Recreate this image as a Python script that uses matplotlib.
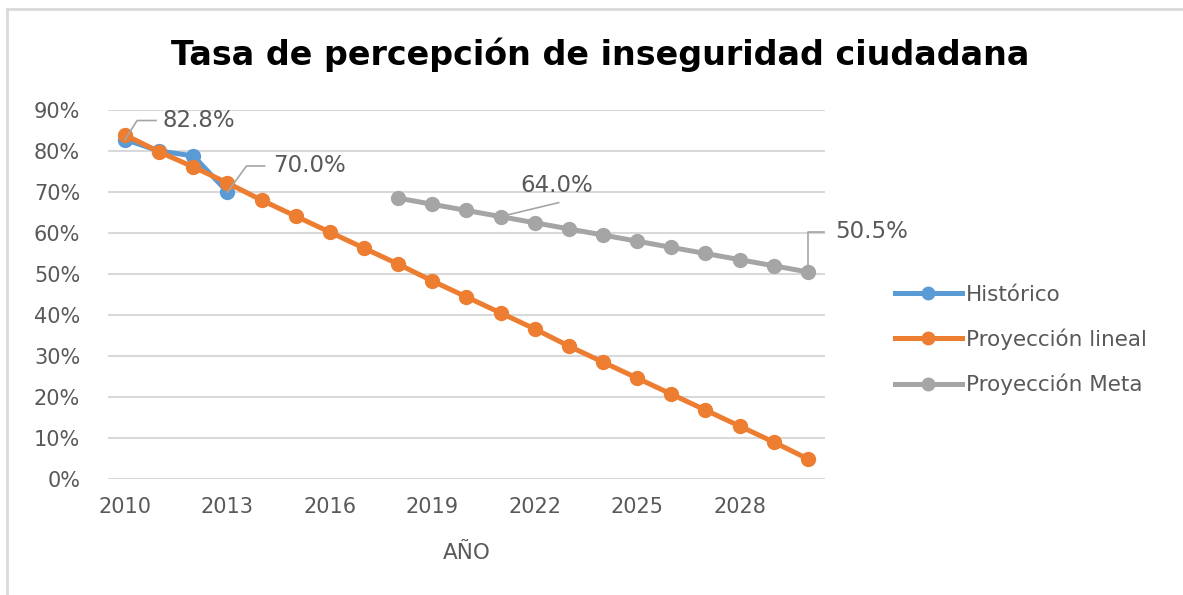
import matplotlib
matplotlib.use("Agg")
import matplotlib.pyplot as plt
from matplotlib.lines import Line2D

years = list(range(2010, 2031))
hist_years = [2010, 2011, 2012, 2013]
hist_vals = [82.8, 80.0, 78.8, 70.0]
lineal_vals = [83.9, 79.8, 76.1, 72.2, 68.0, 64.1, 60.2, 56.3, 52.4, 48.3, 44.4,
               40.5, 36.6, 32.4, 28.5, 24.6, 20.7, 16.8, 12.9, 9.0, 4.9]
meta_years = list(range(2018, 2031))
meta_vals = [68.5, 67.0, 65.5, 64.0, 62.5, 61.0, 59.5, 58.0, 56.5, 55.0, 53.5, 52.0, 50.5]
xtick_years = [2010, 2013, 2016, 2019, 2022, 2025, 2028]
yticks = [0, 10, 20, 30, 40, 50, 60, 70, 80, 90]

blue = '#5B9BD5'
orange = '#ED7D31'
gray = '#A5A5A5'
txt = '#595959'
plt.rcParams['font.family'] = ['DejaVu Sans']

W, H = 1183, 595
fig = plt.figure(figsize=(W / 100, H / 100), dpi=100)
ax = fig.add_axes([108 / W, 1 - 479 / H, (825 - 108) / W, (479 - 110) / H])

# frame lines around chart (left and top)
fig.add_artist(Line2D([7 / W, 7 / W], [0, 1 - 9 / H], color='#D9D9D9', lw=2, transform=fig.transFigure))
fig.add_artist(Line2D([7 / W, 1], [1 - 9 / H, 1 - 9 / H], color='#D9D9D9', lw=2, transform=fig.transFigure))

ax.set_xlim(2009.5, 2030.5)
ax.set_ylim(0, 90)
ax.set_yticks(yticks)
ax.set_yticklabels(['%d%%' % v for v in yticks])
ax.set_xticks(xtick_years)
ax.grid(axis='y', color='#D9D9D9', lw=1.5)
ax.set_axisbelow(True)
for s in ax.spines.values():
    s.set_visible(False)
ax.tick_params(length=0, labelsize=15, colors=txt)
ax.tick_params(axis='y', pad=20)
ax.tick_params(axis='x', pad=13)

ax.plot(hist_years, hist_vals, color=blue, lw=3.6, marker='o', ms=10, label='Histórico', zorder=3)
ax.plot(years, lineal_vals, color=orange, lw=3.6, marker='o', ms=10, label='Proyección lineal', zorder=4)
ax.plot(meta_years, meta_vals, color=gray, lw=3.6, marker='o', ms=10, label='Proyección Meta', zorder=3)

# data labels with leader lines (offsets in pixels)
pxx = (825 - 108) / 21.0
pxy = (479 - 110) / 90.0


def leader(x, y, offs, label, tx, ty):
    xs = [x + dx / pxx for dx, dy in offs]
    ys = [y + dy / pxy for dx, dy in offs]
    ax.plot(xs, ys, color=gray, lw=1.2, zorder=5)
    ax.text(x + tx / pxx, y + ty / pxy, label, fontsize=16.5, color=txt, ha='left', va='center', zorder=6)


leader(hist_years[0], hist_vals[0], [(0, 0), (12, 19), (31, 19)], '%.1f%%' % hist_vals[0], 37, 19)
leader(hist_years[3], hist_vals[3], [(0, 0), (19, 26), (37, 26)], '%.1f%%' % hist_vals[3], 46, 26)
leader(meta_years[3], meta_vals[3], [(0, 0), (58, 14)], '%.1f%%' % meta_vals[3], 20, 31)
leader(meta_years[-1], meta_vals[-1], [(0, 0), (0, 40), (16, 40)], '%.1f%%' % meta_vals[-1], 27, 40)

ax.set_xlabel('AÑO', fontsize=15.5, color=txt, labelpad=19)

fig.text(600 / W, 1 - 55 / H, 'Tasa de percepción de inseguridad ciudadana',
         fontsize=24, fontweight='bold', color='black', ha='center', va='center')

leg = ax.legend(loc='center left', bbox_to_anchor=(884 / W, 1 - 340 / H), bbox_transform=fig.transFigure,
                frameon=False, fontsize=15.5, labelcolor=txt, handlelength=3.1, handletextpad=0.22,
                labelspacing=1.1, borderpad=0, markerscale=0.9)

fig.savefig('out.png', dpi=100)
